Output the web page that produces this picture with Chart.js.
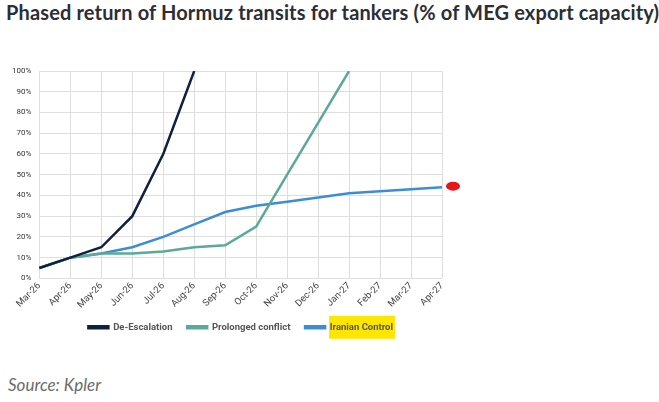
<!DOCTYPE html>
<html>
<head>
<meta charset="utf-8">
<script src="https://cdn.jsdelivr.net/npm/chart.js@4.4.1/dist/chart.umd.min.js"></script>
<style>
  body { margin: 0; background: #fff; width: 659px; height: 402px; position: relative; overflow: hidden; }
  #title { position: absolute; left: 6px; top: 0px; font: bold 20px "Lato", sans-serif; color: #2b2e36; white-space: nowrap; letter-spacing: 0.15px; }
  #wrap { position: absolute; left: 0; top: 57px; width: 480px; height: 285px; }
  #source { position: absolute; left: 8px; top: 374px; font: italic 17px "Lato", sans-serif; color: #6b6b6b; }
</style>
</head>
<body>
<div id="title">Phased return of Hormuz transits for tankers (% of MEG export capacity)</div>
<div id="wrap"><canvas id="chart"></canvas></div>
<div id="source">Source: Kpler</div>
<script>
// Data
const months = ['Mar-26', 'Apr-26', 'May-26', 'Jun-26', 'Jul-26', 'Aug-26', 'Sep-26',
    'Oct-26', 'Nov-26', 'Dec-26', 'Jan-27', 'Feb-27', 'Mar-27', 'Apr-27'];
const deEscalation = [5, 10, 15, 30, 60, 100, null, null, null, null, null, null, null, null];
const prolonged = [5, 10, 12, 12, 13, 15, 16, 25, 50, 75, 100, null, null, null];
const iranian = [5, 10, 12, 15, 20, 26, 32, 35, 37, 39, 41, 42, 43, 44];

// yellow highlight behind the third legend label, red dot after the last point
const marks = {
    id: 'marks',
    beforeDraw(chart) {
        const box = chart.legend.legendHitBoxes[2];
        if (!box) return;
        const ctx = chart.ctx;
        ctx.save();
        ctx.fillStyle = '#ffe600';
        ctx.fillRect(box.left + 24, box.top + box.height / 2 - 11.5, box.width - 22, 23);
        ctx.restore();
    },
    afterDraw(chart) {
        const meta = chart.getDatasetMeta(2);
        const last = meta.data[meta.data.length - 1];
        const ctx = chart.ctx;
        ctx.save();
        ctx.fillStyle = '#e5161c';
        ctx.beginPath();
        ctx.ellipse(last.x + 11, last.y - 1, 7, 4.5, 0, 0, Math.PI * 2);
        ctx.fill();
        ctx.restore();
    }
};

new Chart(document.getElementById('chart'), {
    type: 'line',
    data: {
        labels: months,
        datasets: [
            { label: 'De-Escalation', data: deEscalation, borderColor: '#0f213f', backgroundColor: '#0f213f' },
            { label: 'Prolonged conflict', data: prolonged, borderColor: '#5aa999', backgroundColor: '#5aa999' },
            { label: 'Iranian Control', data: iranian, borderColor: '#3b8ed6', backgroundColor: '#3b8ed6' }
        ]
    },
    options: {
        responsive: true,
        maintainAspectRatio: false,
        animation: false,
        elements: {
            point: { radius: 0 },
            line: { borderWidth: 2.5, tension: 0 }
        },
        layout: { padding: { left: 4, right: 38, top: 14 } },
        scales: {
            x: {
                grid: { color: '#dedede', drawTicks: false },
                border: { display: false },
                ticks: { color: '#444', font: { family: 'Roboto', size: 9.5 }, maxRotation: 45, minRotation: 45, padding: 2 }
            },
            y: {
                min: 0, max: 100,
                grid: { color: '#dedede', drawTicks: false },
                border: { display: false },
                ticks: { stepSize: 10, color: '#333', font: { family: 'Roboto', size: 8 }, padding: 8,
                    callback: v => v + '%' }
            }
        },
        plugins: {
            legend: {
                position: 'bottom',
                fullSize: false,
                labels: {
                    boxWidth: 20, boxHeight: 2, color: '#555', padding: 10,
                    font: { family: 'Roboto', size: 9.5, weight: 'bold' },
                    // a little extra room after the first two items
                    generateLabels(chart) {
                        const items = Chart.defaults.plugins.legend.labels.generateLabels(chart);
                        items.forEach((it, i) => { if (i < 2) it.text += '  '; });
                        return items;
                    }
                }
            },
            tooltip: { enabled: false }
        }
    },
    plugins: [marks]
});
</script>
</body>
</html>
